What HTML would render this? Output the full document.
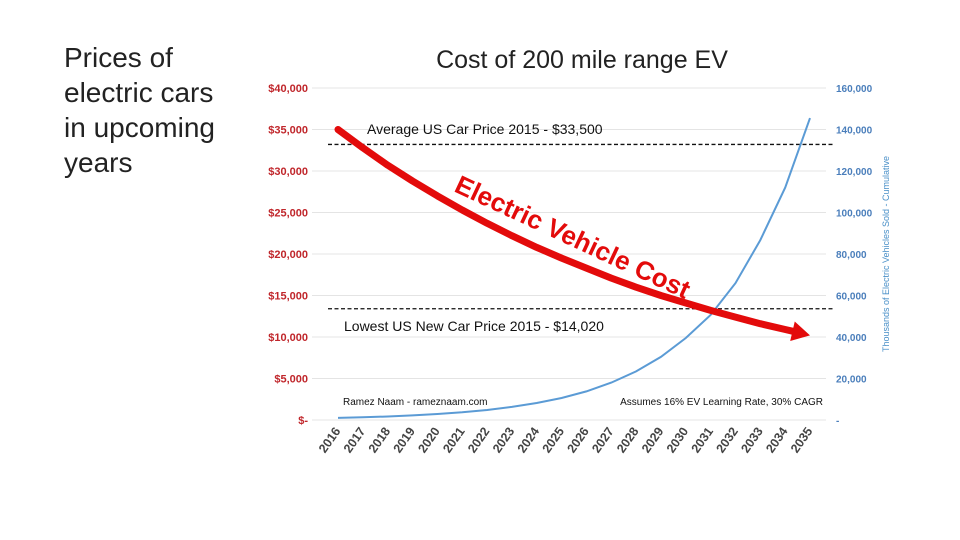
<!DOCTYPE html>
<html><head><meta charset="utf-8"><style>
body{margin:0;background:#fff;width:960px;height:540px;overflow:hidden;font-family:"Liberation Sans",sans-serif}
#side{position:absolute;left:64px;top:40px;font-size:28px;line-height:35px;color:#222}
svg{position:absolute;left:0;top:0}
</style></head><body>
<div id="side">Prices of<br>electric cars<br>in upcoming<br>years</div>
<svg id="c" width="960" height="540"></svg>
<script>
const years=[2016,2017,2018,2019,2020,2021,2022,2023,2024,2025,2026,2027,2028,2029,2030,2031,2032,2033,2034,2035];
const evCost=[35000,32800,30700,28800,27000,25300,23700,22200,20800,19500,18300,17100,16000,15000,14100,13200,12400,11600,10900,10200];
const evSold=[1000,1300,1700,2200,2900,3700,4800,6300,8200,10600,13800,18000,23400,30400,39500,50600,66000,86700,112000,145500];
const leftTicks=[0,5000,10000,15000,20000,25000,30000,35000,40000];
const leftLabels=["$-","$5,000","$10,000","$15,000","$20,000","$25,000","$30,000","$35,000","$40,000"];
const rightTicks=[0,20000,40000,60000,80000,100000,120000,140000,160000];
const rightLabels=["-","20,000","40,000","60,000","80,000","100,000","120,000","140,000","160,000"];
const refLines=[33200,13400];
const NS="http://www.w3.org/2000/svg",svg=document.getElementById('c');
const y0=420,y1=88,xa=338,xb=810;
const yL=v=>y0-(v/40000)*(y0-y1);
const yR=v=>y0-(v/160000)*(y0-y1);
const xS=i=>xa+i*(xb-xa)/(years.length-1);
function mk(t,a,txt){const e=document.createElementNS(NS,t);for(const k in a)e.setAttribute(k,a[k]);if(txt!=null)e.textContent=txt;svg.appendChild(e);return e;}
let e=mk('text',{x:582,y:68,'text-anchor':'middle','font-size':25,fill:'#222'},'Cost of 200 mile range EV');


leftTicks.forEach((v,i)=>{
 let g=mk('line',{x1:312,x2:826,y1:yL(v),y2:yL(v),stroke:'#e4e4e4','stroke-width':1});
 
 
 let t=mk('text',{x:308,y:yL(v)+4,'text-anchor':'end','font-size':11,'font-weight':'bold',fill:'#c0262b'},leftLabels[i]);
 
 
});
rightTicks.forEach((v,i)=>{
 let t=mk('text',{x:836,y:yR(v)+4,'font-size':10,'font-weight':'bold',fill:'#4a7ebb'},rightLabels[i]);
 
 
});
e=mk('text',{transform:'translate(889,254) rotate(-90)','text-anchor':'middle','font-size':9,fill:'#4a90c8'},'Thousands of Electric Vehicles Sold - Cumulative');


years.forEach((y,i)=>{
 let t=mk('text',{transform:`translate(${xS(i)+3},431) rotate(-55)`,'text-anchor':'end','font-size':12.5,'font-weight':'bold',fill:'#444'},y);
 
 
});
refLines.forEach((v,i)=>{
 let l=mk('line',{x1:328,x2:835,y1:yL(v),y2:yL(v),stroke:'#111','stroke-width':1.3,'stroke-dasharray':'4,2.5'});
 
 
});
e=mk('text',{x:367,y:134,'font-size':14,fill:'#111'},'Average US Car Price 2015 - $33,500');


e=mk('text',{x:344,y:331,'font-size':14,fill:'#111'},'Lowest US New Car Price 2015 - $14,020');


e=mk('text',{x:343,y:405,'font-size':10,fill:'#111'},'Ramez Naam - rameznaam.com');


e=mk('text',{x:823,y:405,'text-anchor':'end','font-size':10,fill:'#111'},'Assumes 16% EV Learning Rate, 30% CAGR');


let d=evSold.map((v,i)=>(i?'L':'M')+xS(i).toFixed(1)+','+yR(v).toFixed(1)).join('');
e=mk('path',{d:d,fill:'none',stroke:'#5b9bd5','stroke-width':2});


const n=evCost.length-1;
let pts=evCost.map((v,i)=>[xS(i),yL(v)]);
let last=pts[n],prev=pts[n-1];
let dx=last[0]-prev[0],dy=last[1]-prev[1],len=Math.hypot(dx,dy),ux=dx/len,uy=dy/len;
let base=[last[0]-ux*18,last[1]-uy*18];
d=pts.slice(0,n).map((p,i)=>(i?'L':'M')+p[0].toFixed(1)+','+p[1].toFixed(1)).join('')+'L'+base[0].toFixed(1)+','+base[1].toFixed(1);
e=mk('path',{d:d,fill:'none',stroke:'#e30b0b','stroke-width':7,'stroke-linecap':'round','stroke-linejoin':'round'});


let px=-uy,py=ux;
e=mk('polygon',{points:`${last[0]},${last[1]} ${base[0]+px*10},${base[1]+py*10} ${base[0]-px*10},${base[1]-py*10}`,fill:'#e30b0b'});


e=mk('text',{transform:'translate(453,191) rotate(25)','font-size':26,'font-weight':'bold',fill:'#e30b0b'},'Electric Vehicle Cost');


</script>
</body></html>
